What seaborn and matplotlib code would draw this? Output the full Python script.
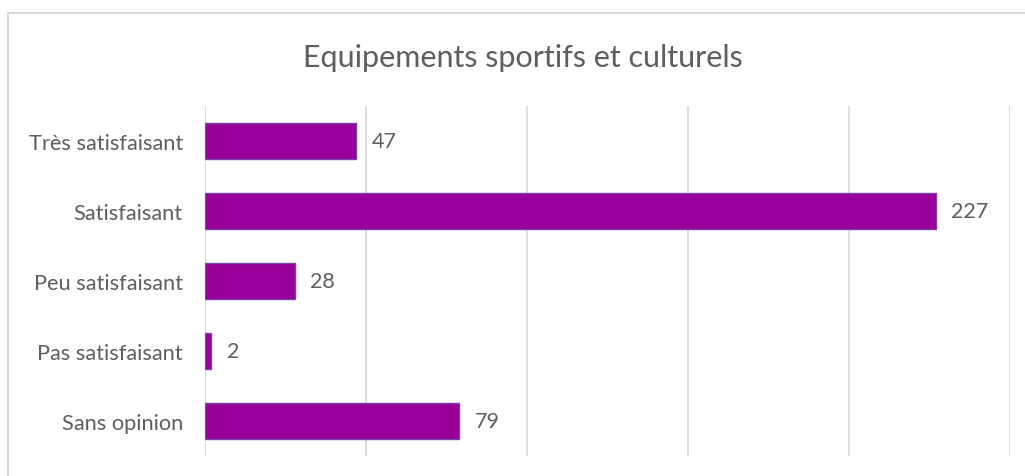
import seaborn as sns
import matplotlib.pyplot as plt
from matplotlib.lines import Line2D

categories = ["Très satisfaisant", "Satisfaisant", "Peu satisfaisant", "Pas satisfaisant", "Sans opinion"]
counts = [47, 227, 28, 2, 79]
title = "Equipements sportifs et culturels"

sns.set_style("white")
plt.rcParams["font.family"] = ["Lato", "DejaVu Sans"]
text_color = "#5e5e5e"
grid_color = "#d9d9d9"

fig = plt.figure(figsize=(10.25, 4.77), dpi=100)
ax = fig.add_axes([0.2, 0.0419, 0.7854, 0.7338])

sns.barplot(x=counts, y=categories, color="#990099", edgecolor="#7a3fa8",
            linewidth=1, width=0.52, saturation=1, ax=ax)

ax.set_xlim(0, 250)
ax.set_xticks(range(0, 251, 50))
ax.xaxis.grid(True, color=grid_color, linewidth=1.3)
ax.set_axisbelow(True)
for s in ax.spines.values():
    s.set_visible(False)
ax.tick_params(axis="x", length=0, labelbottom=False)
ax.tick_params(axis="y", length=0, pad=16, labelsize=15.7, labelcolor=text_color)
ax.set_xlabel("")
ax.set_ylabel("")

ax.bar_label(ax.containers[0], padding=11, fontsize=15.5, color=text_color)

fig.text(0.51, 0.879, title, ha="center", va="center", fontsize=22, color=text_color)

# outer chart frame
fig.add_artist(Line2D([8 / 1025, 1.0], [1 - 14 / 477, 1 - 14 / 477], color=grid_color, linewidth=1.5))
fig.add_artist(Line2D([8 / 1025, 8 / 1025], [0, 1 - 14 / 477], color=grid_color, linewidth=1.5))

fig.savefig("out.png", dpi=100)
